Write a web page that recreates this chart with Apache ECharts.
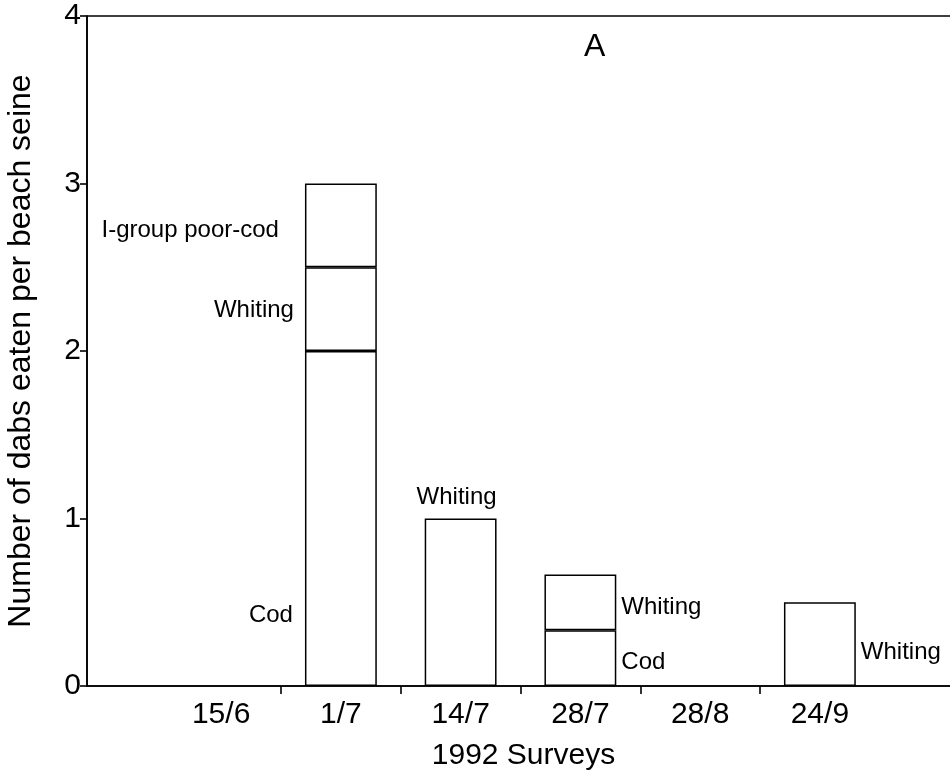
<!DOCTYPE html>
<html>
<head>
<meta charset="utf-8">
<script src="https://cdn.jsdelivr.net/npm/echarts@6/dist/echarts.min.js"></script>
<style>
html,body{margin:0;padding:0;background:#fff;}
#chart{width:950px;height:774px;}
</style>
</head>
<body>
<div id="chart"></div>
<script>
// ---- data ----
const categories = ['15/6', '1/7', '14/7', '28/7', '28/8', '24/9'];
const cod = [null, 2, null, 0.333, null, null];
const whiting = [null, 0.5, 1, 0.333, null, 0.5];
const poorCod = [null, 0.5, null, null, null, null];
const yTickValues = [0, 1, 2, 3, 4];
const panelLabel = 'A';
const xTitle = '1992 Surveys';
const yTitle = 'Number of dabs eaten per beach seine';
// annotation texts attached to bar segments
const codNotes = [null, 'Cod', null, 'Cod', null, null];
const whitingNotes = [null, 'Whiting', 'Whiting', 'Whiting', null, 'Whiting'];
const poorCodNotes = [null, 'I-group poor-cod', null, null, null, null];

// ---- layout / style ----
const FONT = 'Liberation Sans, Arial, Helvetica, sans-serif';
const band = 119.75;
const padCount = 2; // extra empty bands so the trailing tick falls off-canvas
const nCat = categories.length + padCount;
const pad = arr => arr.concat(new Array(padCount).fill(null));
const catData = pad(categories).map(c => c === null ? '' : c);

const labelPlacement = {
  Cod: [
    null,
    {position: 'left', distance: 12, offset: [0, 97]},
    null,
    {position: 'right', distance: 5, offset: [0, 4]},
    null, null
  ],
  Whiting: [
    null,
    {position: 'left', distance: 11, offset: [0, 1]},
    {position: 'top', distance: 9, offset: [-4, 0]},
    {position: 'right', distance: 5, offset: [0, 5]},
    null,
    {position: 'right', distance: 5, offset: [0, 8]}
  ],
  Poor: [
    null,
    {position: 'left', distance: 26, offset: [0, 5]},
    null, null, null, null
  ]
};

function buildData(values, notes, placements) {
  return pad(values).map((v, i) => {
    if (v === null) return null;
    const note = notes[i];
    const pl = placements[i];
    const item = {value: v};
    if (note && pl) {
      item.label = {
        show: true,
        formatter: note,
        position: pl.position,
        distance: pl.distance,
        offset: pl.offset,
        color: '#000',
        fontSize: 24,
        fontFamily: FONT
      };
    } else {
      item.label = {show: false};
    }
    return item;
  });
}

const barStyle = {color: '#ffffff', borderColor: '#000', borderWidth: 1.5};

const chart = echarts.init(document.getElementById('chart'), null, {renderer: 'canvas'});
const option = {
  backgroundColor: '#ffffff',
  animation: false,
  title: {
    text: panelLabel,
    left: 579,
    top: 26,
    textStyle: {fontSize: 32, fontWeight: 'normal', color: '#000', fontFamily: FONT}
  },
  grid: [
    {left: 87, top: 16, right: -10, bottom: 88, show: true, borderColor: '#000', borderWidth: 1.6,
      backgroundColor: 'transparent', containLabel: false, outerBoundsMode: 'none'},
    {left: 281 - band, top: 16, width: band * nCat, bottom: 88, containLabel: false, outerBoundsMode: 'none'}
  ],
  xAxis: [
    {
      type: 'value', gridIndex: 0, min: 0, max: 1,
      axisLine: {show: true, lineStyle: {color: '#000', width: 1.6}},
      axisTick: {show: false}, axisLabel: {show: false}, splitLine: {show: false},
      name: xTitle, nameLocation: 'middle', nameGap: 55,
      nameTextStyle: {fontSize: 30, color: '#000', fontFamily: FONT}
    },
    {
      type: 'category', gridIndex: 1, data: catData,
      axisLine: {show: false},
      axisTick: {show: true, length: 8, lineStyle: {color: '#000', width: 1.6},
        interval: (idx) => idx >= 1 && idx < categories.length},
      axisLabel: {interval: 0, fontSize: 30, color: '#000', margin: 14, fontFamily: FONT},
      splitLine: {show: false}
    }
  ],
  yAxis: [
    {
      type: 'value', gridIndex: 0, min: yTickValues[0], max: yTickValues[yTickValues.length - 1], interval: 1,
      axisLine: {show: true, lineStyle: {color: '#000', width: 1.6}},
      axisTick: {show: true, length: 7, lineStyle: {color: '#000', width: 1.6}},
      axisLabel: {fontSize: 30, color: '#000', margin: 6, fontFamily: FONT},
      splitLine: {show: false},
      name: yTitle, nameLocation: 'middle', nameGap: 50,
      nameTextStyle: {fontSize: 32, color: '#000', fontFamily: FONT}
    },
    {
      type: 'value', gridIndex: 1, min: yTickValues[0], max: yTickValues[yTickValues.length - 1], show: false
    }
  ],
  series: [
    {name: 'Cod', type: 'bar', stack: 'prey', xAxisIndex: 1, yAxisIndex: 1, barWidth: '60%',
      itemStyle: barStyle, data: buildData(cod, codNotes, labelPlacement.Cod)},
    {name: 'Whiting', type: 'bar', stack: 'prey', xAxisIndex: 1, yAxisIndex: 1, barWidth: '60%',
      itemStyle: barStyle, data: buildData(whiting, whitingNotes, labelPlacement.Whiting)},
    {name: 'I-group poor-cod', type: 'bar', stack: 'prey', xAxisIndex: 1, yAxisIndex: 1, barWidth: '60%',
      itemStyle: barStyle, data: buildData(poorCod, poorCodNotes, labelPlacement.Poor)}
  ]
};
chart.setOption(option);
</script>
</body>
</html>
